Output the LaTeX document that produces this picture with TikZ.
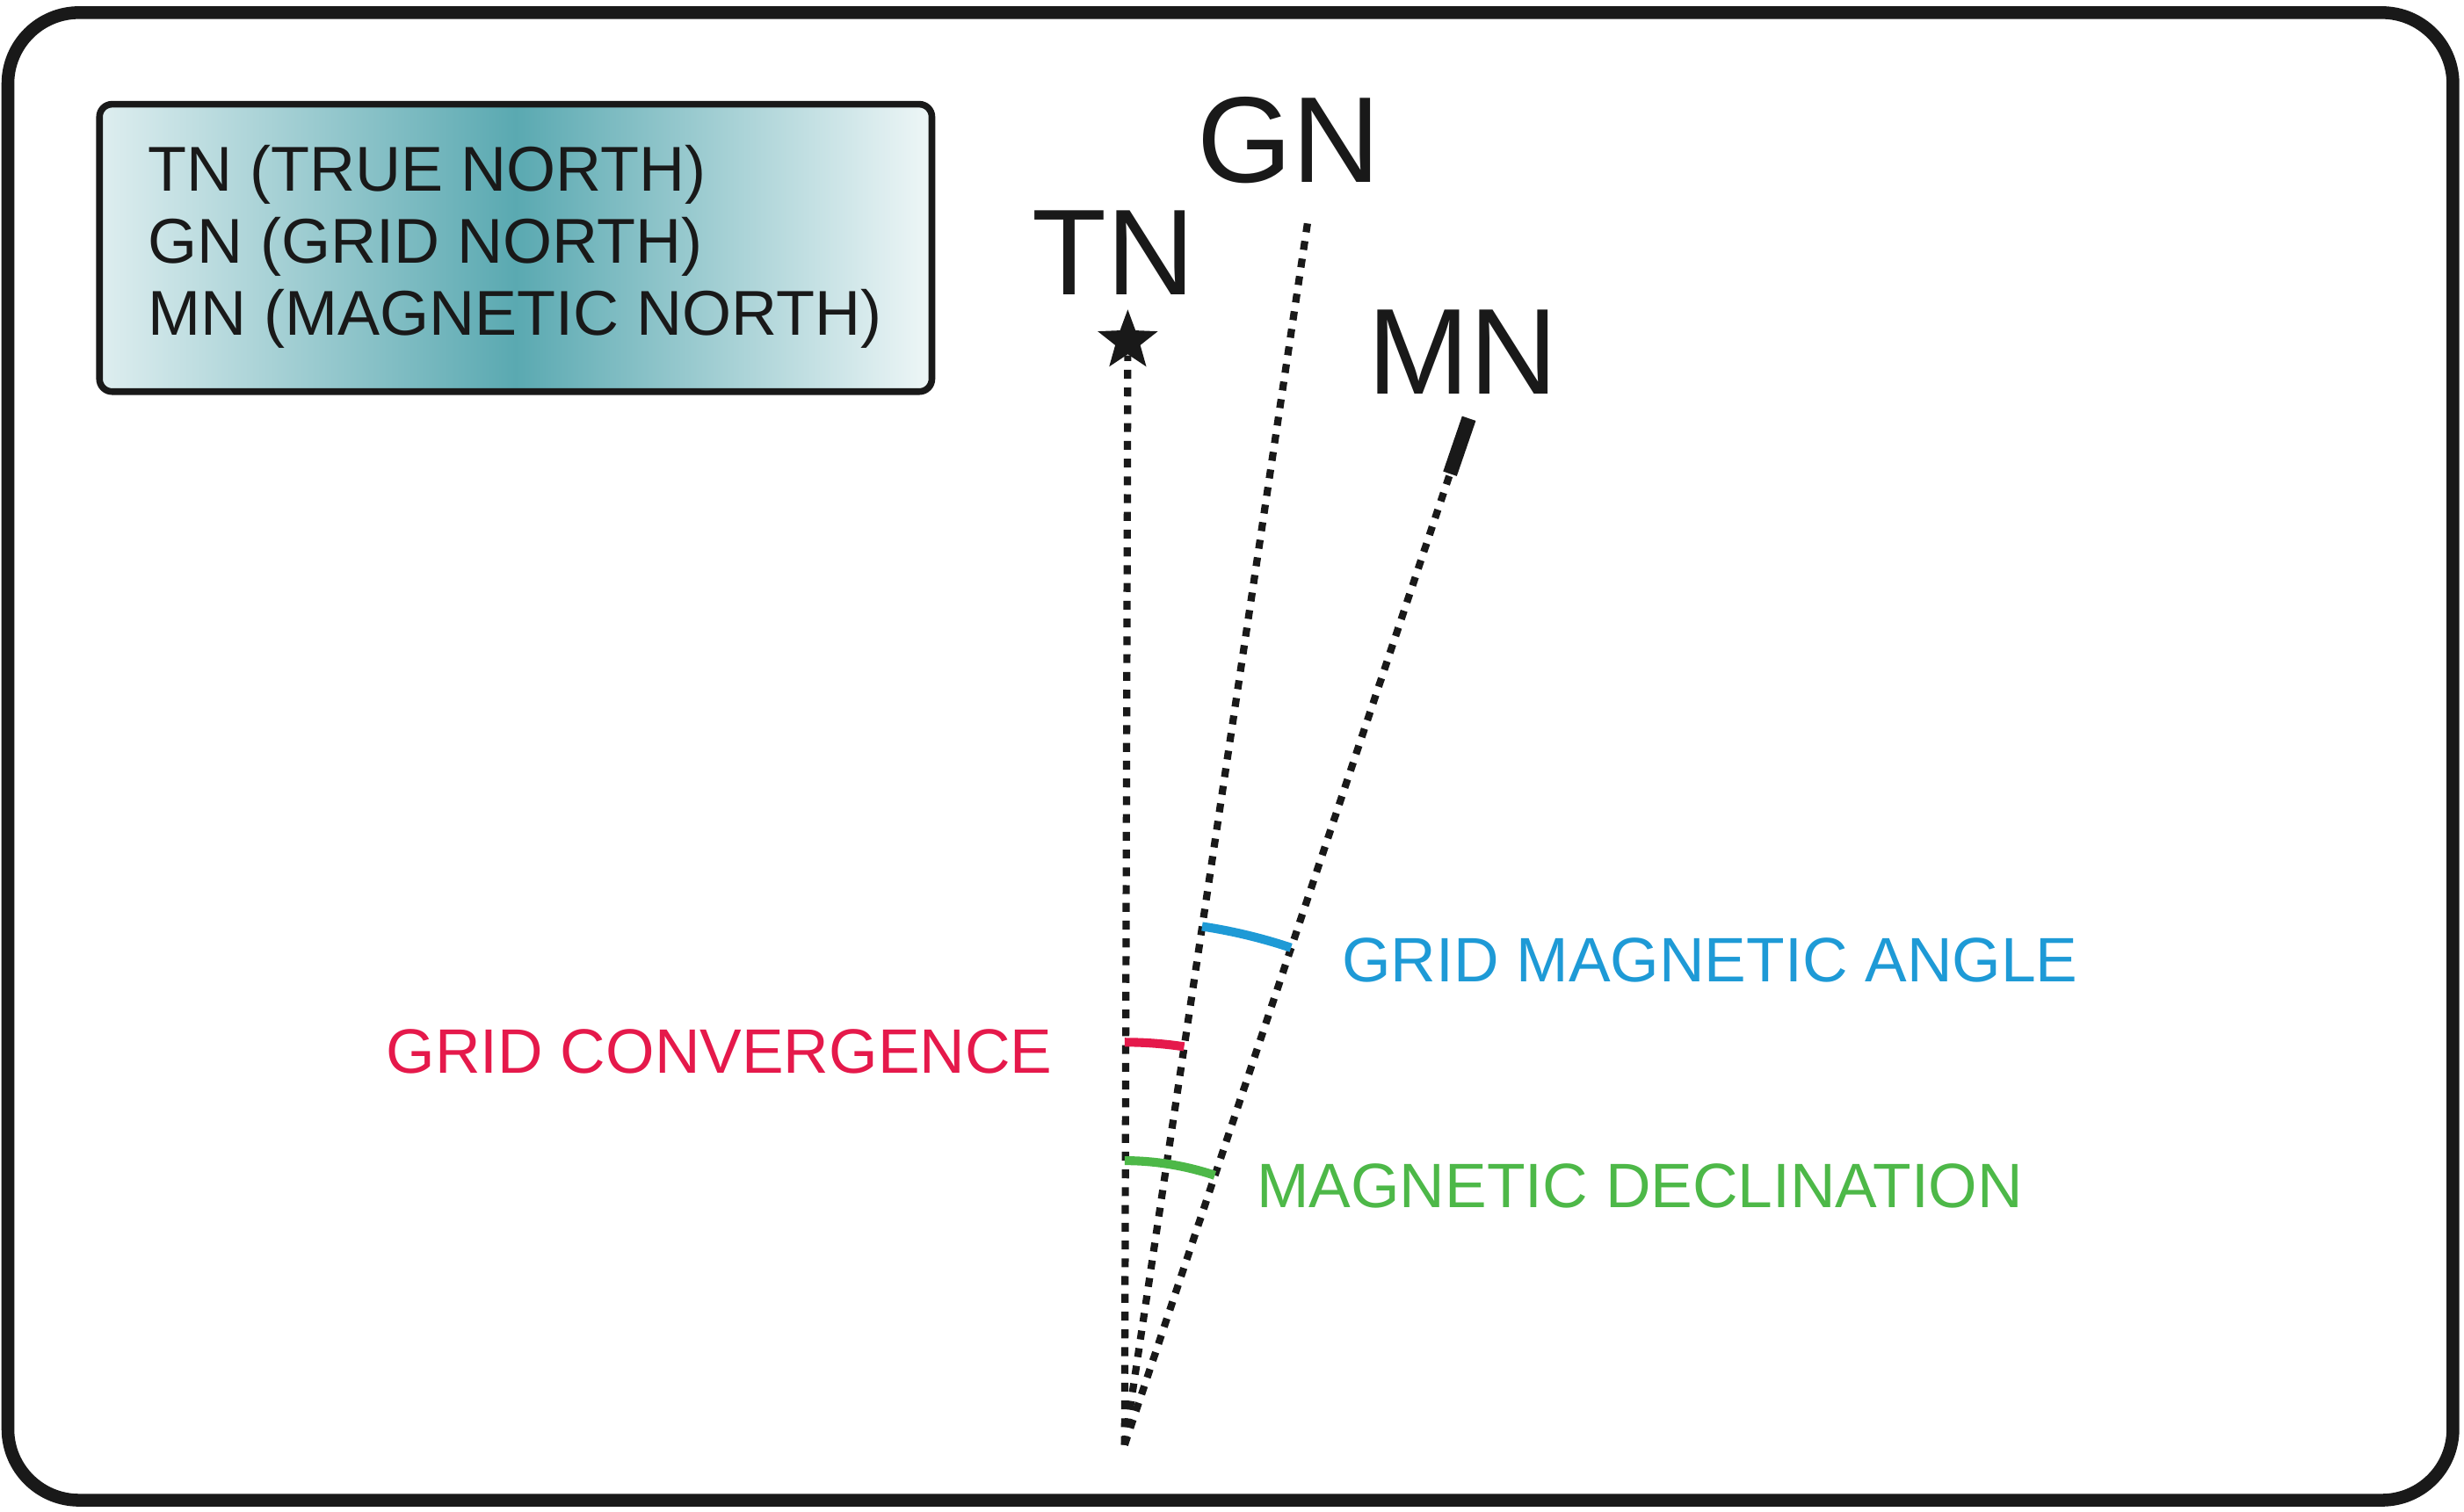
\documentclass[tikz,border=0pt]{standalone}
\usepackage{fontspec}
\setmainfont{Liberation Sans}
\usetikzlibrary{shapes.geometric}
\definecolor{teal1}{HTML}{5AA9B1}
\definecolor{cred}{HTML}{E5194B}
\definecolor{cblue}{HTML}{1E9AD6}
\definecolor{cgreen}{HTML}{4DB848}
\tikzset{
 ray/.style={line width=1.3pt,dash pattern=on 1.6pt off 1.6pt,color=black!90},
 angarc/.style={line width=1.6pt},
 big/.style={font=\fontsize{22}{26}\selectfont,text=black!90,inner sep=0pt},
 lab/.style={font=\fontsize{11.3}{14}\selectfont,inner sep=0pt,anchor=west}
}
\begin{document}
\begin{tikzpicture}[x=0.01cm,y=0.01cm]
\useasboundingbox (0,0) rectangle (1560,957);
\draw[line width=2.3pt,rounded corners=0.45cm,black!90] (5,7) rectangle (1553,949);
\draw[line width=1.2pt,rounded corners=0.08cm,black!90,left color=white!80!teal1,right color=white!90!teal1,middle color=teal1] (63,709) rectangle (590,891);
\node[anchor=north west,align=left,inner sep=0pt,font=\fontsize{11.4}{13}\selectfont,text=black!90] (legend) at (93,866)
 {TN (TRUE NORTH)\\GN (GRID NORTH)\\MN (MAGNETIC NORTH)};
\coordinate (O) at (712,42);
\node[star,star points=5,star point ratio=2.4,fill=black!90,minimum size=0.4cm,inner sep=0pt] (star) at (714,741) {};
\coordinate (gn) at (828,817);
\coordinate (mn) at (918,657);
\coordinate (mntop) at (930,692);
\draw[ray] (O) -- (star.south);
\draw[ray] (O) -- (gn);
\draw[ray] (O) -- (mn);
\draw[line width=2.6pt,black!90] (mn) -- (mntop);
\node[big] (TN) at (705,797) {TN};
\node[big] (GN) at (816,868) {GN};
\node[big] (MN) at (926,734) {MN};
\draw[angarc,cred] (O) ++(90:255) arc (90:81.5:255);
\draw[angarc,cblue] (O) ++(81.5:332) arc (81.5:71.5:332);
\draw[angarc,cgreen] (O) ++(90:180) arc (90:71.5:180);
\node[lab,text=cblue] (gma) at (849,349) {GRID MAGNETIC ANGLE};
\node[lab,text=cred,anchor=east] (gc) at (667,291) {GRID CONVERGENCE};
\node[lab,text=cgreen] (md) at (795,206) {MAGNETIC DECLINATION};
\end{tikzpicture}
\end{document}
